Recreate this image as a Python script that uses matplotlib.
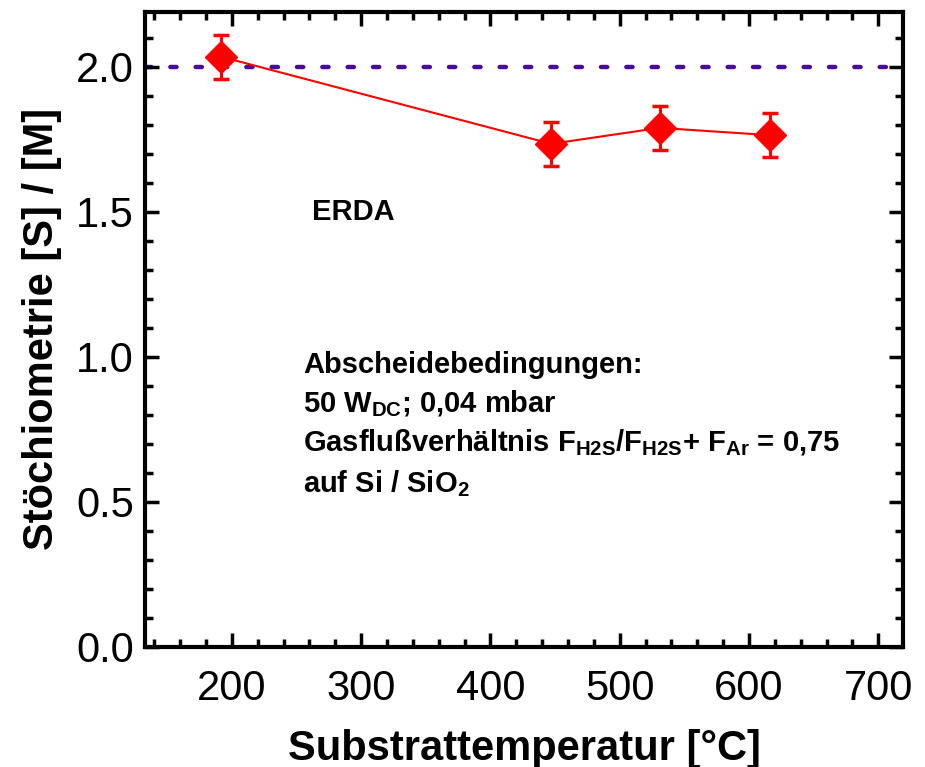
import matplotlib
matplotlib.use('Agg')
import matplotlib.pyplot as plt
from matplotlib.ticker import MultipleLocator

plt.rcParams['font.family'] = ['Liberation Sans', 'DejaVu Sans']
plt.rcParams['mathtext.fontset'] = 'custom'
plt.rcParams['mathtext.rm'] = 'Liberation Sans'
plt.rcParams['mathtext.bf'] = 'Liberation Sans:bold'

# ERDA data
temperature = [192, 447, 531, 616]
stoichiometry = [2.035, 1.735, 1.79, 1.765]
error = [0.075, 0.075, 0.075, 0.075]
reference_value = 2.0

fig = plt.figure(figsize=(9.25, 7.67), dpi=100)
ax = fig.add_axes([0.157, 0.1565, 0.819, 0.828])

ax.axhline(reference_value, color='#4b0a9b', lw=3.2, ls=(0, (1.4, 4.3)),
           dash_capstyle='round', zorder=1)
ax.errorbar(temperature, stoichiometry, yerr=error, color='red', lw=1.5,
            marker='D', ms=16, elinewidth=2.2, capsize=5.5, capthick=2.5, zorder=3)

ax.set_xlim(133, 719)
ax.set_ylim(0, 2.19)
ax.xaxis.set_major_locator(MultipleLocator(100))
ax.xaxis.set_minor_locator(MultipleLocator(20))
ax.yaxis.set_major_locator(MultipleLocator(0.5))
ax.yaxis.set_minor_locator(MultipleLocator(0.1))
ax.yaxis.set_major_formatter(matplotlib.ticker.FormatStrFormatter('%.1f'))
ax.tick_params(which='both', direction='in', top=True, right=True, width=2.5)
ax.tick_params(which='major', length=10, labelsize=30, pad=8)
ax.tick_params(axis='x', which='major', pad=16)
ax.tick_params(which='minor', length=6)
for s in ax.spines.values():
    s.set_linewidth(3)

ax.set_xlabel('Substrattemperatur [°C]', fontsize=30, fontweight='bold', labelpad=14)
ax.set_ylabel('Stöchiometrie [S] / [M]', fontsize=30, fontweight='bold', labelpad=10)

ax.text(262, 1.5, 'ERDA', fontsize=21, fontweight='bold', va='center')
lines = [
    'Abscheidebedingungen:',
    r'50 W$_{\mathbf{DC}}$; 0,04 mbar',
    r'Gasflußverhältnis F$_{\mathbf{H2S}}$/F$_{\mathbf{H2S}}$+ F$_{\mathbf{Ar}}$ = 0,75',
    r'auf Si / SiO$_{\mathbf{2}}$',
]
y_pos = [0.972, 0.838, 0.703, 0.562]
for txt, yy in zip(lines, y_pos):
    ax.text(255, yy, txt, fontsize=21, fontweight='bold', va='center')

fig.savefig('out.png', dpi=100)
